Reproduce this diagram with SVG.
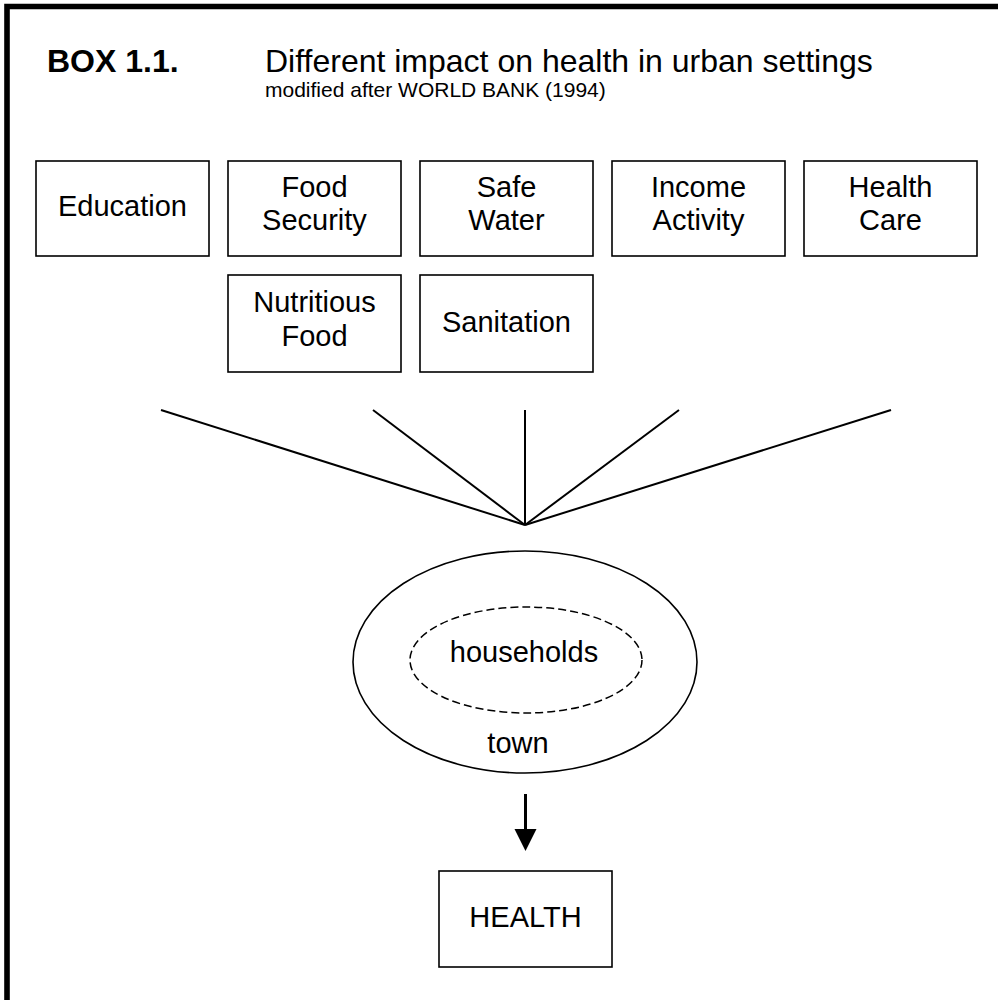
<svg xmlns="http://www.w3.org/2000/svg" width="998" height="1000" viewBox="0 0 998 1000">
<style>
  text { font-family: "Liberation Sans", Arial, sans-serif; fill: #000; }
  .lbl { font-size: 29px; text-anchor: middle; }
  .box { fill: #fff; stroke: #000; stroke-width: 1.6; }
  .conn { stroke: #000; stroke-width: 2; fill: none; }
</style>
<defs>
  <marker id="arrow" markerWidth="8" markerHeight="8" refX="7.5" refY="4" orient="auto" markerUnits="userSpaceOnUse" viewBox="0 0 8 8">
    <path d="M0,0 L8,4 L0,8 z" fill="#000"/>
  </marker>
</defs>
<rect x="0" y="0" width="998" height="1000" fill="#fff"/>
<path d="M7,1000 V6.5 H998" fill="none" stroke="#000" stroke-width="5.6"/>

<g id="title">
  <text x="47" y="72" font-size="32" font-weight="bold">BOX 1.1.</text>
  <text x="265" y="72" font-size="32">Different impact on health in urban settings</text>
  <text x="265" y="97" font-size="21">modified after WORLD BANK (1994)</text>
</g>

<g id="education"><rect class="box" x="36" y="161" width="173" height="95"/><text class="lbl" x="122.5" y="216">Education</text></g>
<g id="food-security"><rect class="box" x="228" y="161" width="173" height="95"/><text class="lbl" x="314.5" y="197">Food</text><text class="lbl" x="314.5" y="230">Security</text></g>
<g id="safe-water"><rect class="box" x="420" y="161" width="173" height="95"/><text class="lbl" x="506.5" y="197">Safe</text><text class="lbl" x="506.5" y="230">Water</text></g>
<g id="income-activity"><rect class="box" x="612" y="161" width="173" height="95"/><text class="lbl" x="698.5" y="197">Income</text><text class="lbl" x="698.5" y="230">Activity</text></g>
<g id="health-care"><rect class="box" x="804" y="161" width="173" height="95"/><text class="lbl" x="890.5" y="197">Health</text><text class="lbl" x="890.5" y="230">Care</text></g>
<g id="nutritious-food"><rect class="box" x="228" y="275" width="173" height="97"/><text class="lbl" x="314.5" y="312">Nutritious</text><text class="lbl" x="314.5" y="346">Food</text></g>
<g id="sanitation"><rect class="box" x="420" y="275" width="173" height="97"/><text class="lbl" x="506.5" y="332">Sanitation</text></g>

<g id="connectors">
  <line class="conn" x1="161" y1="410" x2="525" y2="525"/>
  <line class="conn" x1="373" y1="410" x2="525" y2="525"/>
  <line class="conn" x1="525" y1="410" x2="525" y2="525"/>
  <line class="conn" x1="679" y1="410" x2="525" y2="525"/>
  <line class="conn" x1="891" y1="410" x2="525" y2="525"/>
  <line x1="525.5" y1="794" x2="525.5" y2="829" stroke="#000" stroke-width="3"/>
  <path d="M514.5,829 L536.5,829 L525.5,851 z" fill="#000"/>
</g>

<g id="town">
  <ellipse cx="525" cy="662" rx="172" ry="111" fill="none" stroke="#000" stroke-width="1.6"/>
  <text class="lbl" x="518" y="753">town</text>
</g>
<g id="households">
  <ellipse cx="526" cy="660" rx="116" ry="53" fill="none" stroke="#000" stroke-width="1.5" stroke-dasharray="8,4"/>
  <text class="lbl" x="524" y="662">households</text>
</g>

<g id="health"><rect class="box" x="439" y="871" width="173" height="96"/><text class="lbl" x="525.5" y="927">HEALTH</text></g>
</svg>
